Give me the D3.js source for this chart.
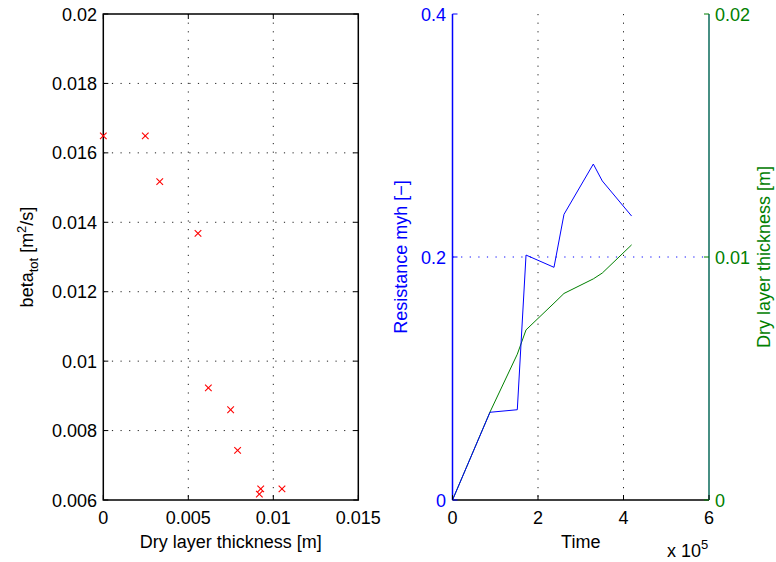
<!DOCTYPE html>
<html>
<head>
<meta charset="utf-8">
<script src="https://cdn.jsdelivr.net/npm/d3@7"></script>
<style>
  html, body { margin: 0; padding: 0; background: #fff; }
  svg { display: block; font-family: "Liberation Sans", Arial, Helvetica, sans-serif; }
</style>
</head>
<body>
<svg id="chart" width="776" height="562"></svg>
<script>
// Left panel: total transfer coefficient against dry layer thickness
const dryThickness = [0, 0.00247, 0.00332, 0.00557, 0.00618, 0.00749, 0.0079, 0.00926, 0.00918, 0.01051];
const betaTot      = [0.01649, 0.01649, 0.01517, 0.01368, 0.00923, 0.0086, 0.00743, 0.00632, 0.00617, 0.00632];
const leftXTicks = [0, 0.005, 0.01, 0.015];
const leftXTickLabels = ["0", "0.005", "0.01", "0.015"];
const leftYTicks = [0.006, 0.008, 0.01, 0.012, 0.014, 0.016, 0.018, 0.02];
const leftYTickLabels = ["0.006", "0.008", "0.01", "0.012", "0.014", "0.016", "0.018", "0.02"];

// Right panel: resistance and dry layer thickness over time (time in units of 1e5)
const timeValues  = [0, 0.877, 1.516, 1.72, 2.374, 2.608, 3.294, 3.504, 4.19];
const resistance  = [0, 0.0722, 0.0743, 0.2016, 0.1915, 0.2351, 0.2765, 0.2626, 0.2337];
const dryLayer    = [0, 0.00362, 0.0060, 0.0070, 0.0081, 0.0085, 0.0091, 0.00934, 0.0105];
const timeTicks = [0, 2, 4, 6];
const resTicks = [0, 0.2, 0.4];
const resTickLabels = ["0", "0.2", "0.4"];
const dryTicks = [0, 0.01, 0.02];
const dryTickLabels = ["0", "0.01", "0.02"];

const svg = d3.select("#chart");
const BLUE = "#0000ff", GREEN = "#008000", RED = "#ff0000";
const FS = 18;
const TICK = 5;
const plotTop = 14, plotBottom = 500;

// ---------- Left panel ----------
const L = { x0: 103.3, x1: 358.3 };
const xL = d3.scaleLinear().domain([0, 0.015]).range([L.x0, L.x1]);
const yL = d3.scaleLinear().domain([0.006, 0.02]).range([plotBottom, plotTop]);
const gL = svg.append("g");

// dotted grid
gL.selectAll("line.gx").data(leftXTicks.slice(1, -1)).join("line")
  .attr("x1", d => xL(d)).attr("x2", d => xL(d)).attr("y1", plotTop).attr("y2", plotBottom)
  .attr("stroke", "#222").attr("stroke-width", 1).attr("stroke-dasharray", "1.2,7.4");
gL.selectAll("line.gy").data(leftYTicks.slice(1, -1)).join("line")
  .attr("x1", L.x0).attr("x2", L.x1).attr("y1", d => yL(d)).attr("y2", d => yL(d))
  .attr("stroke", "#222").attr("stroke-width", 1).attr("stroke-dasharray", "1.2,7.4");

// box
gL.append("rect").attr("x", L.x0).attr("y", plotTop).attr("width", L.x1 - L.x0).attr("height", plotBottom - plotTop)
  .attr("fill", "none").attr("stroke", "#000").attr("stroke-width", 1.5);

// ticks (inside, on all four sides)
leftXTicks.forEach(t => {
  gL.append("line").attr("x1", xL(t)).attr("x2", xL(t)).attr("y1", plotBottom).attr("y2", plotBottom - TICK).attr("stroke", "#000");
  gL.append("line").attr("x1", xL(t)).attr("x2", xL(t)).attr("y1", plotTop).attr("y2", plotTop + TICK).attr("stroke", "#000");
});
leftYTicks.forEach(t => {
  gL.append("line").attr("x1", L.x0).attr("x2", L.x0 + TICK).attr("y1", yL(t)).attr("y2", yL(t)).attr("stroke", "#000");
  gL.append("line").attr("x1", L.x1).attr("x2", L.x1 - TICK).attr("y1", yL(t)).attr("y2", yL(t)).attr("stroke", "#000");
});

// tick labels
gL.selectAll("text.xt").data(leftXTicks).join("text")
  .attr("x", d => xL(d)).attr("y", 524).attr("text-anchor", "middle")
  .attr("font-size", FS).attr("fill", "#000").text((d, i) => leftXTickLabels[i]);
gL.selectAll("text.yt").data(leftYTicks).join("text")
  .attr("x", 97).attr("y", d => yL(d) + 6.5).attr("text-anchor", "end")
  .attr("font-size", FS).attr("fill", "#000").text((d, i) => leftYTickLabels[i]);

// x marks
const mk = 3.3;
const marks = gL.selectAll("g.mk").data(dryThickness.map((d, i) => [d, betaTot[i]])).join("g")
  .attr("transform", d => `translate(${xL(d[0])},${yL(d[1])})`);
marks.append("line").attr("x1", -mk).attr("y1", -mk).attr("x2", mk).attr("y2", mk).attr("stroke", RED).attr("stroke-width", 1.1);
marks.append("line").attr("x1", -mk).attr("y1", mk).attr("x2", mk).attr("y2", -mk).attr("stroke", RED).attr("stroke-width", 1.1);

// axis labels
gL.append("text").attr("x", (L.x0 + L.x1) / 2).attr("y", 548).attr("text-anchor", "middle")
  .attr("font-size", FS).text("Dry layer thickness [m]");
const yLab = gL.append("text").attr("transform", `translate(33,${(plotTop + plotBottom) / 2}) rotate(-90)`)
  .attr("text-anchor", "middle").attr("font-size", FS);
yLab.append("tspan").text("beta");
yLab.append("tspan").attr("font-size", 13).attr("dy", 5).text("tot");
yLab.append("tspan").attr("dy", -5).text(" [m");
yLab.append("tspan").attr("font-size", 13).attr("dy", -7).text("2");
yLab.append("tspan").attr("dy", 7).text("/s]");

// ---------- Right panel ----------
const R = { x0: 452.5, x1: 709 };
const xR = d3.scaleLinear().domain([0, 6]).range([R.x0, R.x1]);
const yRes = d3.scaleLinear().domain([0, 0.4]).range([plotBottom, plotTop]);
const yDry = d3.scaleLinear().domain([0, 0.02]).range([plotBottom, plotTop]);
const gR = svg.append("g");

// grid
gR.selectAll("line.gx").data(timeTicks.slice(1, -1)).join("line")
  .attr("x1", d => xR(d)).attr("x2", d => xR(d)).attr("y1", plotTop).attr("y2", plotBottom)
  .attr("stroke", "#222").attr("stroke-width", 1).attr("stroke-dasharray", "1.2,7.4");
gR.selectAll("line.gy").data(resTicks.slice(1, -1)).join("line")
  .attr("x1", R.x0).attr("x2", R.x1).attr("y1", d => yRes(d)).attr("y2", d => yRes(d))
  .attr("stroke", BLUE).attr("stroke-width", 1).attr("stroke-dasharray", "1.2,7.4");

// lines
const lineRes = d3.line().x((d, i) => xR(timeValues[i])).y(d => yRes(d));
const lineDry = d3.line().x((d, i) => xR(timeValues[i])).y(d => yDry(d));
gR.append("path").attr("d", lineDry(dryLayer)).attr("fill", "none").attr("stroke", GREEN).attr("stroke-width", 1);
gR.append("path").attr("d", lineRes(resistance)).attr("fill", "none").attr("stroke", BLUE).attr("stroke-width", 1);

// axes lines
gR.append("line").attr("x1", R.x0).attr("x2", R.x1).attr("y1", plotBottom).attr("y2", plotBottom).attr("stroke", "#000").attr("stroke-width", 1.5);
gR.append("line").attr("x1", R.x0).attr("x2", R.x0).attr("y1", plotTop).attr("y2", plotBottom).attr("stroke", BLUE).attr("stroke-width", 1.5);
gR.append("line").attr("x1", R.x1).attr("x2", R.x1).attr("y1", plotTop).attr("y2", plotBottom).attr("stroke", "#0a6a5a").attr("stroke-width", 1.5);

// ticks
timeTicks.forEach(t => {
  gR.append("line").attr("x1", xR(t)).attr("x2", xR(t)).attr("y1", plotBottom).attr("y2", plotBottom - TICK).attr("stroke", "#000");
});
resTicks.forEach(t => {
  gR.append("line").attr("x1", R.x0).attr("x2", R.x0 + TICK).attr("y1", yRes(t)).attr("y2", yRes(t)).attr("stroke", BLUE);
});
dryTicks.forEach(t => {
  gR.append("line").attr("x1", R.x1).attr("x2", R.x1 - TICK).attr("y1", yDry(t)).attr("y2", yDry(t)).attr("stroke", GREEN);
});

// tick labels
gR.selectAll("text.xt").data(timeTicks).join("text")
  .attr("x", d => xR(d)).attr("y", 524).attr("text-anchor", "middle")
  .attr("font-size", FS).attr("fill", "#000").text(d => d);
gR.selectAll("text.yt").data(resTicks).join("text")
  .attr("x", 446).attr("y", d => yRes(d) + 6.5).attr("text-anchor", "end")
  .attr("font-size", FS).attr("fill", BLUE).text((d, i) => resTickLabels[i]);
gR.selectAll("text.yt2").data(dryTicks).join("text")
  .attr("x", 715).attr("y", d => yDry(d) + 6.5).attr("text-anchor", "start")
  .attr("font-size", FS).attr("fill", GREEN).text((d, i) => dryTickLabels[i]);

// axis labels
gR.append("text").attr("x", (R.x0 + R.x1) / 2).attr("y", 548).attr("text-anchor", "middle")
  .attr("font-size", FS).text("Time");
const mult = gR.append("text").attr("x", 667).attr("y", 557).attr("font-size", FS);
mult.append("tspan").text("x 10");
mult.append("tspan").attr("font-size", 13).attr("dy", -8).text("5");
gR.append("text").attr("transform", `translate(407,${(plotTop + plotBottom) / 2}) rotate(-90)`)
  .attr("text-anchor", "middle").attr("font-size", FS).attr("fill", BLUE).text("Resistance myh [\u2212]");
gR.append("text").attr("transform", `translate(770,${(plotTop + plotBottom) / 2}) rotate(-90)`)
  .attr("text-anchor", "middle").attr("font-size", FS).attr("fill", GREEN).text("Dry layer thickness [m]");
</script>
</body>
</html>
